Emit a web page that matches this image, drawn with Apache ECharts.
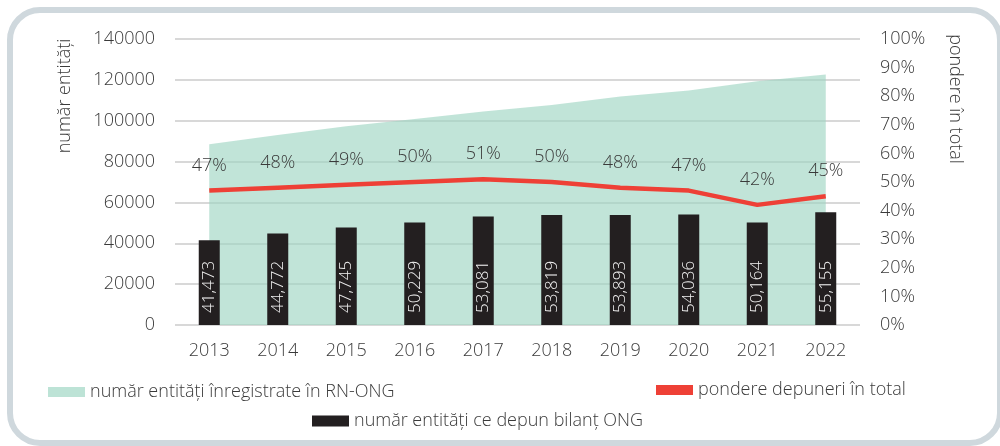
<!DOCTYPE html>
<html lang="ro">
<head>
    <meta charset="UTF-8">
    <title>Entități ONG</title>
    <script src="https://cdn.jsdelivr.net/npm/echarts@6/dist/echarts.min.js"></script>
    <style>
        body {
            margin: 0;
            padding: 0;
            background-color: #fff;
        }

        #chart {
            width: 1000px;
            height: 446px;
        }
    </style>
</head>
<body>

<div id="chart"></div>

<script>
    const years = ['2013', '2014', '2015', '2016', '2017', '2018', '2019', '2020', '2021', '2022'];
    const registered = [88500, 93000, 97300, 100800, 104500, 107700, 111800, 114800, 119300, 122600];
    const filed = [41473, 44772, 47745, 50229, 53081, 53819, 53893, 54036, 50164, 55155];
    const share = [47, 48, 49, 50, 51, 50, 48, 47, 42, 45];

    const FONT = '"Open Sans", "Noto Sans", sans-serif';
    const TEXT = '#3a3a3a';

    const chart = echarts.init(document.getElementById('chart'));

    const legendText = { color: TEXT, fontSize: 18, fontFamily: FONT, fontWeight: 300 };
    const tickText = { color: TEXT, fontSize: 18, fontFamily: FONT, fontWeight: 300 };

    const option = {
        animation: false,
        textStyle: { fontFamily: FONT },
        grid: { left: 175, right: 140, top: 39, bottom: 121 },
        legend: [
            {
                data: [{ name: 'număr entități înregistrate în RN-ONG', icon: 'rect' }],
                left: 43, top: 378,
                itemWidth: 37, itemHeight: 10,
                textStyle: legendText
            },
            {
                data: [{ name: 'pondere depuneri în total', icon: 'rect' }],
                left: 651, top: 376,
                itemWidth: 37, itemHeight: 10,
                textStyle: legendText
            },
            {
                data: [{ name: 'număr entități ce depun bilanț ONG', icon: 'rect' }],
                left: 307, top: 407,
                itemWidth: 37, itemHeight: 11,
                textStyle: legendText
            }
        ],
        xAxis: {
            type: 'category',
            data: years,
            axisLine: { show: false },
            axisTick: { show: false },
            axisLabel: Object.assign({ margin: 17 }, tickText)
        },
        yAxis: [
            {
                type: 'value',
                min: 0, max: 140000, interval: 20000,
                axisLabel: Object.assign({ margin: 20, formatter: v => String(v) }, tickText),
                splitLine: { lineStyle: { color: '#d8d8d8', width: 2 } }
            },
            {
                type: 'value',
                min: 0, max: 100, interval: 10,
                axisLabel: Object.assign({ margin: 20, formatter: v => v + '%' }, tickText),
                splitLine: { show: false }
            }
        ],
        series: [
            {
                name: 'număr entități înregistrate în RN-ONG',
                type: 'line',
                data: registered,
                symbol: 'none',
                lineStyle: { width: 0 },
                itemStyle: { color: '#bde3d6' },
                areaStyle: { color: '#9fd6c3', opacity: 0.65 },
                z: 1
            },
            {
                name: 'număr entități ce depun bilanț ONG',
                type: 'bar',
                data: filed,
                barWidth: 21,
                itemStyle: { color: '#231f20' },
                label: {
                    show: true,
                    position: 'insideBottom',
                    rotate: 90,
                    align: 'left',
                    verticalAlign: 'middle',
                    distance: 12,
                    color: '#f2f2f2',
                    fontSize: 17,
                    fontFamily: FONT,
                    fontWeight: 300,
                    formatter: p => p.value.toLocaleString('en-US')
                },
                z: 2
            },
            {
                name: 'pondere depuneri în total',
                type: 'line',
                yAxisIndex: 1,
                data: share,
                symbol: 'circle',
                symbolSize: 0,
                lineStyle: { color: '#ee4036', width: 4.5 },
                itemStyle: { color: '#ee4036' },
                label: {
                    show: true,
                    position: 'top',
                    distance: 16,
                    color: TEXT,
                    fontSize: 18,
                    fontFamily: FONT,
                    fontWeight: 300,
                    formatter: '{c}%'
                },
                z: 3
            }
        ],
        graphic: [
            {
                type: 'rect',
                shape: { x: 10, y: 10, width: 990, height: 433, r: 30 },
                style: { fill: 'none', stroke: '#cfd8dd', lineWidth: 6 },
                silent: true
            },
            {
                type: 'text',
                x: 65, y: 96,
                rotation: Math.PI / 2,
                style: {
                    text: 'număr entități',
                    fill: TEXT, fontSize: 18, fontFamily: FONT, fontWeight: 300,
                    align: 'center', verticalAlign: 'middle'
                }
            },
            {
                type: 'text',
                x: 955, y: 99,
                rotation: -Math.PI / 2,
                style: {
                    text: 'pondere în total',
                    fill: TEXT, fontSize: 18, fontFamily: FONT, fontWeight: 300,
                    align: 'center', verticalAlign: 'middle'
                }
            }
        ]
    };

    chart.setOption(option);
</script>
</body>
</html>
